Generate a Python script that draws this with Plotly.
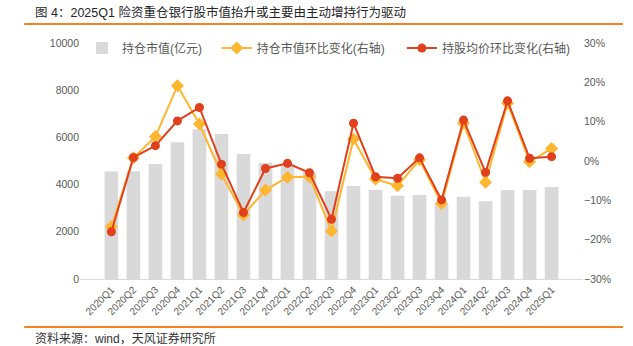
import plotly.graph_objects as go

quarters = ["2020Q1", "2020Q2", "2020Q3", "2020Q4", "2021Q1", "2021Q2", "2021Q3", "2021Q4",
            "2022Q1", "2022Q2", "2022Q3", "2022Q4", "2023Q1", "2023Q2", "2023Q3", "2023Q4",
            "2024Q1", "2024Q2", "2024Q3", "2024Q4", "2025Q1"]
holding_value = [4550, 4570, 4870, 5790, 6350, 6140, 5300, 4930, 4850, 4530, 3720,
                 3940, 3770, 3530, 3560, 3170, 3480, 3290, 3770, 3770, 3900]
value_qoq = [-16.7, 0.8, 6.2, 19.1, 9.4, -3.3, -13.7, -7.4, -4.1, -4.0, -17.8,
             5.6, -4.6, -6.3, 0.3, -10.8, 9.6, -5.4, 14.7, -0.2, 3.2]
price_qoq = [-18.0, 0.9, 3.9, 10.2, 13.6, -0.8, -13.1, -1.9, -0.6, -3.0, -14.8,
             9.6, -4.0, -4.4, 0.8, -9.9, 10.4, -2.9, 15.3, 0.7, 1.1]

FONT = "Liberation Sans, Arial, Noto Sans CJK SC"
GRAY_TXT = "#595959"
ORANGE = "#F5821F"

fig = go.Figure()
fig.add_trace(go.Bar(x=quarters, y=holding_value, name="持仓市值(亿元)",
                     marker=dict(color="#D9D9D9", line=dict(width=0)), yaxis="y",
                     legend="legend"))
fig.add_trace(go.Scatter(x=quarters, y=[v / 100 for v in value_qoq], name="持仓市值环比变化(右轴)",
                         mode="lines+markers", yaxis="y2", legend="legend2",
                         line=dict(color="#FDB62F", width=2),
                         marker=dict(symbol="diamond", size=10, color="#FDB62F")))
fig.add_trace(go.Scatter(x=quarters, y=[v / 100 for v in price_qoq], name="持股均价环比变化(右轴)",
                         mode="lines+markers", yaxis="y2", legend="legend3",
                         line=dict(color="#E0401B", width=2),
                         marker=dict(symbol="circle", size=9, color="#E0401B")))

legend_common = dict(orientation="h", y=1.04, xanchor="left", yanchor="top",
                     bgcolor="rgba(0,0,0,0)", font=dict(size=12, color=GRAY_TXT, family=FONT),
                     itemwidth=30)

fig.update_layout(
    width=633, height=346,
    margin=dict(l=80, r=50, t=43, b=67),
    paper_bgcolor="white", plot_bgcolor="white",
    font=dict(family=FONT, size=12, color=GRAY_TXT),
    bargap=0.38,
    showlegend=True,
    legend=dict(x=0.004, **legend_common),
    legend2=dict(x=0.272, **legend_common),
    legend3=dict(x=0.640, **legend_common),
    xaxis=dict(type="category", tickangle=-45, tickfont=dict(size=10, color=GRAY_TXT),
               showline=True, linecolor="#D9D9D9", linewidth=1, ticks="",
               showgrid=False, zeroline=False),
    yaxis=dict(range=[0, 10000], dtick=2000, tickformat="d", showgrid=False, zeroline=False,
               tickfont=dict(size=10.5, color=GRAY_TXT), ticks="", showline=False),
    yaxis2=dict(range=[-0.3, 0.3], dtick=0.1, tickformat=".0%", overlaying="y", side="right",
                showgrid=False, zeroline=False, tickfont=dict(size=10.5, color=GRAY_TXT),
                ticks="", showline=False),
    shapes=[
        dict(type="line", xref="paper", yref="paper", x0=-0.111, x1=1.0795, y0=1.0805, y1=1.0805,
             line=dict(color=ORANGE, width=2)),
        dict(type="line", xref="paper", yref="paper", x0=-0.111, x1=1.0795, y0=-0.203, y1=-0.203,
             line=dict(color=ORANGE, width=2)),
    ],
    annotations=[
        dict(text="图 4：2025Q1 险资重仓银行股市值抬升或主要由主动增持行为驱动", xref="paper", yref="paper",
             x=-0.0934, y=1.131, xanchor="left", yanchor="middle", showarrow=False,
             font=dict(size=12.5, color="#262626", family=FONT)),
        dict(text="资料来源：wind，天风证券研究所", xref="paper", yref="paper",
             x=-0.0934, y=-0.252, xanchor="left", yanchor="middle", showarrow=False,
             font=dict(size=12, color="#333333", family=FONT)),
    ],
)

fig.write_html("out.html")
